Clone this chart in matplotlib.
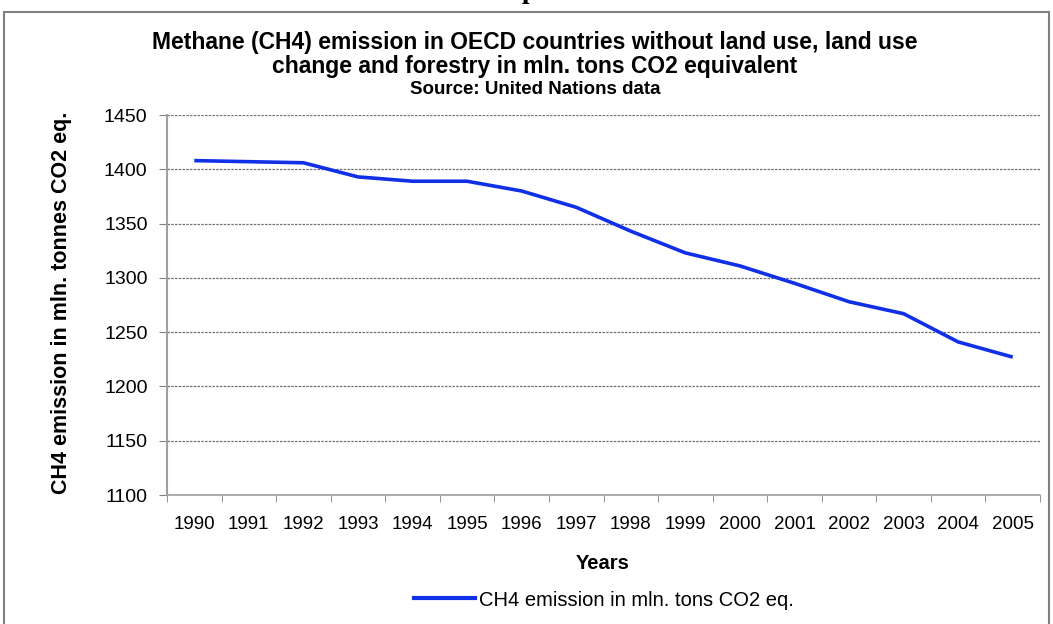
import matplotlib
matplotlib.use("Agg")
import matplotlib.pyplot as plt
from matplotlib.patches import Rectangle
from matplotlib.lines import Line2D

years = ["1990", "1991", "1992", "1993", "1994", "1995", "1996", "1997",
         "1998", "1999", "2000", "2001", "2002", "2003", "2004", "2005"]
emission = [1408, 1407, 1406, 1393, 1389, 1389, 1380, 1365,
            1343, 1323, 1311, 1295, 1278, 1267, 1241, 1227]
y_ticks = [1100, 1150, 1200, 1250, 1300, 1350, 1400, 1450]

plt.rcParams['font.family'] = ['Liberation Sans', 'DejaVu Sans']

W, H = 1053, 624
fig = plt.figure(figsize=(W / 100, H / 100), dpi=100)
fig.patch.set_facecolor("white")

# outer border
fig.patches.append(Rectangle((4 / W, -0.01), (1049 - 4) / W, 1 - 12 / H + 0.01,
                             transform=fig.transFigure, fill=False,
                             edgecolor="#808080", linewidth=1.5))

# cut-off heading at the very top
fig.text(527 / W, 1 + 8 / H, "Graph 1.", ha="center", va="center",
         fontsize=20, fontweight="bold", family="Liberation Serif")

ax = fig.add_axes([167 / W, 1 - 495 / H, (1040 - 167) / W, (495 - 115) / H])
x = list(range(len(years)))
ax.plot(x, emission, color="#1030E8", linewidth=2.6, solid_capstyle="butt")

ax.set_xlim(-0.5, len(years) - 0.5)
ax.set_ylim(1100, 1450)
ax.set_yticks(y_ticks)
ax.set_yticklabels([str(v) for v in y_ticks], fontsize=14)
ax.set_xticks(x)
ax.set_xticklabels(years, fontsize=13.5)
ax.set_xticks([i - 0.5 for i in range(len(years) + 1)], minor=True)
ax.tick_params(axis="x", which="major", length=0, pad=15)
ax.tick_params(axis="x", which="minor", length=5, color="#808080", direction="out")
ax.tick_params(axis="y", length=6, color="#808080", direction="out", pad=8)

ax.grid(axis="y", linestyle=(0, (2, 1)), color="#707070", linewidth=0.9)
ax.set_axisbelow(True)
for s in ["top", "right"]:
    ax.spines[s].set_visible(False)
ax.spines["left"].set_color("#A0A0A0")
ax.spines["left"].set_linewidth(1.5)
ax.spines["bottom"].set_color("#A0A0A0")
ax.spines["bottom"].set_linewidth(1.2)

ax.set_ylabel("CH4 emission in mln. tonnes CO2 eq.", fontsize=15.5,
              fontweight="bold")
ax.yaxis.set_label_coords((72 - 167) / (1040 - 167), (495 - 303) / (495 - 115))
ax.set_xlabel("Years", fontsize=14.5, fontweight="bold")
ax.xaxis.set_label_coords((603 - 167) / (1040 - 167), -(554 - 495) / (495 - 115))

fig.text(535 / W, 1 - 42 / H,
         "Methane (CH4) emission in OECD countries without land use, land use",
         ha="center", va="center", fontsize=16.5, fontweight="bold")
fig.text(535 / W, 1 - 66 / H,
         "change and forestry in mln. tons CO2 equivalent",
         ha="center", va="center", fontsize=16.5, fontweight="bold")
fig.text(535 / W, 1 - 89 / H, "Source: United Nations data",
         ha="center", va="center", fontsize=13.5, fontweight="bold")

handle = Line2D([], [], color="#1030E8", linewidth=3)
fig.legend([handle], ["CH4 emission in mln. tons CO2 eq."],
           loc="center", bbox_to_anchor=(604 / W, 1 - 600 / H),
           frameon=False, fontsize=14.5, handlelength=3, handletextpad=0.2)

fig.savefig("out.png", dpi=100)
